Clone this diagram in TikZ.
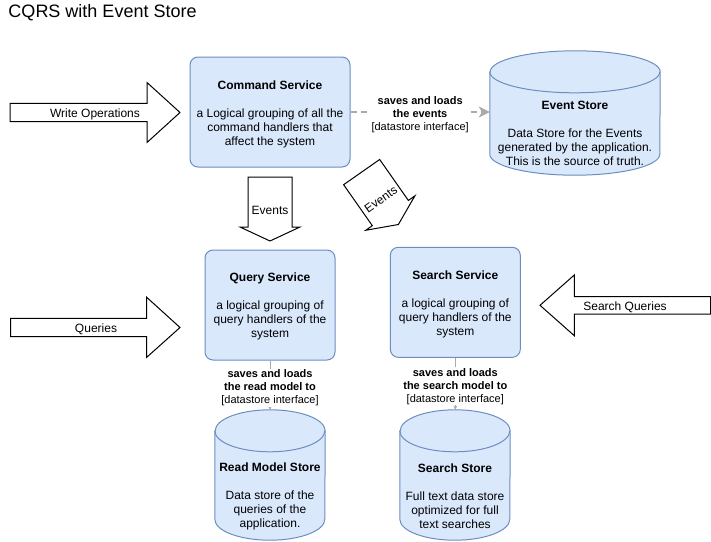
\documentclass[tikz,border=0pt]{standalone}
\usepackage{fontspec}
\setmainfont{Liberation Sans}
\usetikzlibrary{calc,arrows.meta}
\definecolor{boxfill}{HTML}{DAE8FC}
\definecolor{boxline}{HTML}{6C8EBF}
\definecolor{conn}{HTML}{AAAAAA}
\tikzset{
 service/.style={draw=boxline, fill=boxfill, rounded corners=8pt, line width=1pt, minimum width=#1, minimum height=110pt, inner sep=0pt},
 boxtext/.style={align=center, font=\fontsize{12}{14}\selectfont, inner sep=0pt},
 cylnode/.style 2 args={minimum width=#1, minimum height=#2, inner sep=0pt},
 cylfill/.style={draw=boxline, fill=boxfill, line width=1pt},
 blockarrow/.style={draw=black, fill=white, line width=1pt, line join=miter},
 arrowtext/.style={font=\fontsize{12}{14}\selectfont, inner sep=0pt},
 connlabel/.style={fill=white, align=center, font=\fontsize{11}{13}\selectfont, inner sep=1pt, yshift=-2.5pt},
 dashedconn/.style={draw=conn, line width=1.5pt, dash pattern=on 6pt off 4pt, -{Stealth[length=11pt,width=11pt,inset=3pt]}},
 solidconn/.style={draw=conn, line width=1pt, -{Stealth[length=4pt,width=4pt]}},
}
\newcommand{\cylshape}[3]{%
  \filldraw[cylfill] ($(#1.north west)+(0pt,-#3)$) -- ($(#1.south west)+(0pt,#3)$)
    arc[start angle=180,end angle=360,x radius=#2,y radius=#3]
    -- ($(#1.north east)+(0pt,-#3)$)
    arc[start angle=0,end angle=180,x radius=#2,y radius=#3] -- cycle;
  \draw[cylfill, fill=none] ($(#1.north west)+(0pt,-#3)$) arc[start angle=180,end angle=360,x radius=#2,y radius=#3];
}
\begin{document}
\begin{tikzpicture}[x=1pt,y=-1pt]
\useasboundingbox (0,0) rectangle (711,541);

% title
\node[anchor=base west, font=\fontsize{18}{22}\selectfont, inner sep=0pt] (title) at (8.3,17.3) {CQRS with Event Store};

% services
\node[service=160pt] (cmd) at (270,112) {};
\node[boxtext] (cmdtext) at ($(cmd.center)+(0,2)$) {\textbf{Command Service}\\[14pt]a Logical grouping of all the\\command handlers that\\affect the system};
\node[service=130pt] (qs) at (270,305) {};
\node[boxtext] (qstext) at ($(qs.center)+(0,1.8)$) {\textbf{Query Service}\\[14pt]a logical grouping of\\query handlers of the\\system};
\node[service=130pt] (ss) at (455.3,302.3) {};
\node[boxtext] (sstext) at ($(ss.center)+(0,1.6)$) {\textbf{Search Service}\\[14pt]a logical grouping of\\query handlers of the\\system};

% cylinders
\node[cylnode={170pt}{124pt}] (es) at (575,113) {};
\cylshape{es}{85pt}{21pt}
\node[boxtext] (estext) at (575,133) {\textbf{Event Store}\\[14pt]Data Store for the Events\\generated by the application.\\This is the source of truth.};

\node[cylnode={110pt}{130pt}] (rm) at (270,475) {};
\cylshape{rm}{55pt}{21pt}
\node[boxtext] (rmtext) at (270,496.5) {\textbf{Read Model Store}\\[14pt]Data store of the\\queries of the\\application.};

\node[cylnode={110pt}{130pt}] (sst) at (455,475) {};
\cylshape{sst}{55pt}{21pt}
\node[boxtext] (ssttext) at (455,496.5) {\textbf{Search Store}\\[14pt]Full text data store\\optimized for full\\text searches};

% connectors
\draw[dashedconn] (cmd.east) -- (cmd.east -| es.west)
  node[connlabel, midway] (l1) {\textbf{saves and loads}\\\textbf{the events}\\{}[datastore interface]};
\draw[solidconn] (qs.south) -- (rm.north)
  node[connlabel, midway] (l2) {\textbf{saves and loads}\\\textbf{the read model to}\\{}[datastore interface]};
\draw[solidconn] (ss.south) -- (ss.south |- sst.north)
  node[connlabel, midway] (l3) {\textbf{saves and loads}\\\textbf{the search model to}\\{}[datastore interface]};

% block arrows
\draw[blockarrow] (10,103.3) -- (147,103.3) -- (147,82.5) -- (180,112.5) -- (147,142.5) -- (147,121.7) -- (10,121.7) -- cycle;
\node[arrowtext] (wo) at (95,114.5) {Write Operations};

\draw[blockarrow] (10.7,318.3) -- (146.7,318.3) -- (146.7,297.3) -- (180,327.5) -- (146.7,357.3) -- (146.7,336.7) -- (10.7,336.7) -- cycle;
\node[arrowtext] (qu) at (96,329.3) {Queries};

\draw[blockarrow] (710.5,296.7) -- (574.3,296.7) -- (574.3,275) -- (540,305.3) -- (574.3,335.7) -- (574.3,314) -- (710.5,314) -- cycle;
\node[arrowtext] (sq) at (625,307.2) {Search Queries};

\begin{scope}[shift={(270,209)}]
 \draw[blockarrow] (-22,-32) -- (22,-32) -- (22,18) -- (30,18) -- (0,32) -- (-30,18) -- (-22,18) -- cycle;
 \node[arrowtext] (ev1) at (0,1.5) {Events};
\end{scope}
\begin{scope}[shift={(380,198.3)}, rotate=35]
 \draw[blockarrow] (-22,-32) -- (22,-32) -- (22,18) -- (30,18) -- (0,32) -- (-30,18) -- (-22,18) -- cycle;
 \node[arrowtext, rotate=35] (ev2) at (0,1.5) {Events};
\end{scope}
\end{tikzpicture}
\end{document}
